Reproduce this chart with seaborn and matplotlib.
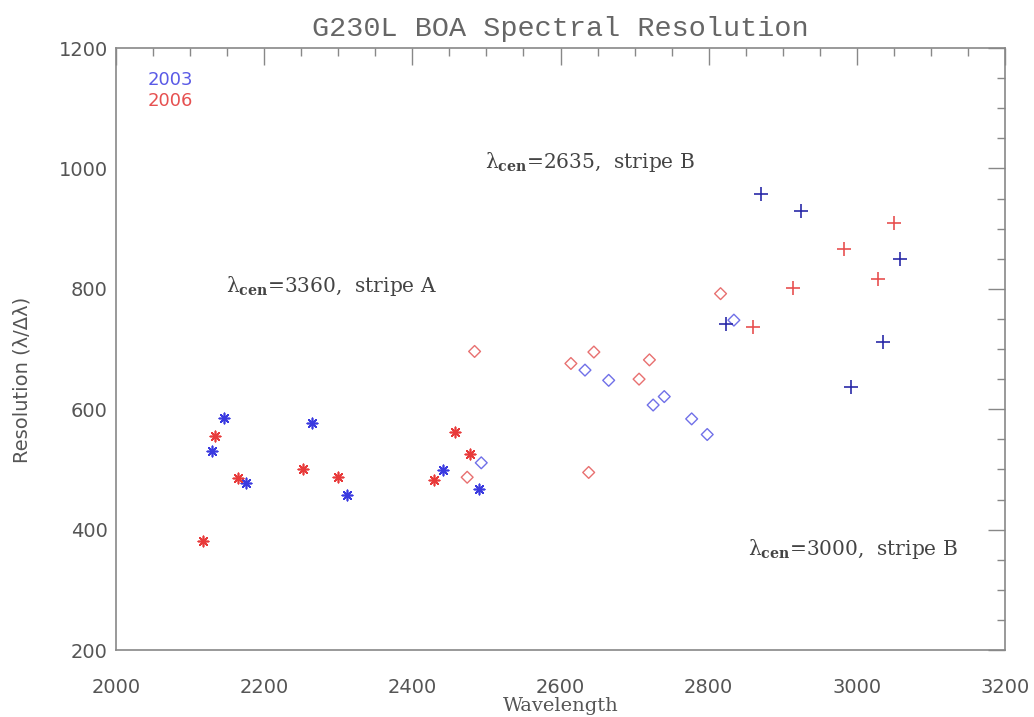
import numpy as np
import pandas as pd
import matplotlib
matplotlib.use("Agg")
import matplotlib.pyplot as plt
import seaborn as sns
from matplotlib.ticker import MultipleLocator

# 2003 epoch (blue)
blue_star_x = [2130, 2146, 2175, 2264, 2312, 2442, 2490]
blue_star_y = [531, 586, 478, 577, 458, 499, 468]
blue_diam_x = [2493, 2633, 2665, 2725, 2740, 2777, 2798, 2834]
blue_diam_y = [511, 665, 648, 607, 621, 584, 558, 748]
blue_plus_x = [2824, 2870, 2924, 2992, 3035, 3058]
blue_plus_y = [742, 957, 930, 637, 712, 850]

# 2006 epoch (red)
red_star_x = [2118, 2133, 2164, 2252, 2300, 2429, 2458, 2478]
red_star_y = [381, 555, 485, 500, 488, 483, 562, 526]
red_diam_x = [2474, 2484, 2614, 2638, 2645, 2706, 2720, 2816]
red_diam_y = [487, 696, 676, 495, 695, 650, 682, 792]
red_plus_x = [2860, 2914, 2983, 3028, 3050]
red_plus_y = [737, 802, 866, 817, 909]

labels = ["λ$_{\\mathbf{cen}}$=3360,  stripe A",
          "λ$_{\\mathbf{cen}}$=2635,  stripe B",
          "λ$_{\\mathbf{cen}}$=3000,  stripe B"]
label_x = [2148, 2498, 2853]
label_y = [805, 1010, 367]

BLUE = "#3a3ae0"
RED = "#e83a3a"
GREY = "#555555"

sns.set_style("white")
plt.rcParams.update({
    "axes.edgecolor": "#888888",
    "axes.linewidth": 1.2,
    "xtick.color": "#888888",
    "ytick.color": "#888888",
    "xtick.labelcolor": GREY,
    "ytick.labelcolor": GREY,
    "mathtext.fontset": "dejavuserif",
})

fig = plt.figure(figsize=(10.34, 7.17), dpi=100)
ax = fig.add_axes([0.1122, 0.0934, 0.8598, 0.8396])

star = (8, 2, 0)
groups = [
    (blue_star_x, blue_star_y, BLUE, star, 55, False),
    (red_star_x, red_star_y, RED, star, 55, False),
    (blue_diam_x, blue_diam_y, "#7070e8", "D", 36, True),
    (red_diam_x, red_diam_y, "#e87070", "D", 36, True),
    (blue_plus_x, blue_plus_y, "#2a2aa8", "+", 90, False),
    (red_plus_x, red_plus_y, "#e85050", "+", 90, False),
]
for gx, gy, c, m, s, hollow in groups:
    df = pd.DataFrame({"x": gx, "y": gy})
    if hollow:
        sns.scatterplot(data=df, x="x", y="y", marker=m, s=s, color=c,
                        facecolor="none", edgecolor=c, linewidth=1.0, ax=ax)
    else:
        sns.scatterplot(data=df, x="x", y="y", marker=m, s=s, color=c,
                        linewidth=1.2, ax=ax)

for t, tx, ty in zip(labels, label_x, label_y):
    ax.text(tx, ty, t, family="DejaVu Serif", fontsize=14.5, color="#444444",
            va="center", ha="left")

ax.text(2042, 1147, "2003", color="#5a5ae6", fontsize=13, va="center")
ax.text(2042, 1112, "2006", color="#e65050", fontsize=13, va="center")

ax.set_xlim(2000, 3200)
ax.set_ylim(200, 1200)
ax.xaxis.set_major_locator(MultipleLocator(200))
ax.xaxis.set_minor_locator(MultipleLocator(50))
ax.yaxis.set_major_locator(MultipleLocator(200))
ax.yaxis.set_minor_locator(MultipleLocator(50))
ax.tick_params(which="both", direction="in", top=True, right=True, width=1.0)
ax.tick_params(which="major", length=12, labelsize=14, pad=6)
ax.tick_params(axis="x", which="major", pad=20)
ax.tick_params(which="minor", length=6)

ax.set_xlabel("Wavelength", family="DejaVu Serif", fontsize=14, color=GREY, labelpad=0)
ax.set_ylabel("Resolution (λ/Δλ)", fontsize=14, color=GREY)
ax.yaxis.set_label_coords(-0.095, 0.449)
ax.set_title("G230L BOA Spectral Resolution", family="Liberation Mono",
             fontsize=20.5, color="#666666", pad=9)

fig.savefig("out.png", dpi=100)
